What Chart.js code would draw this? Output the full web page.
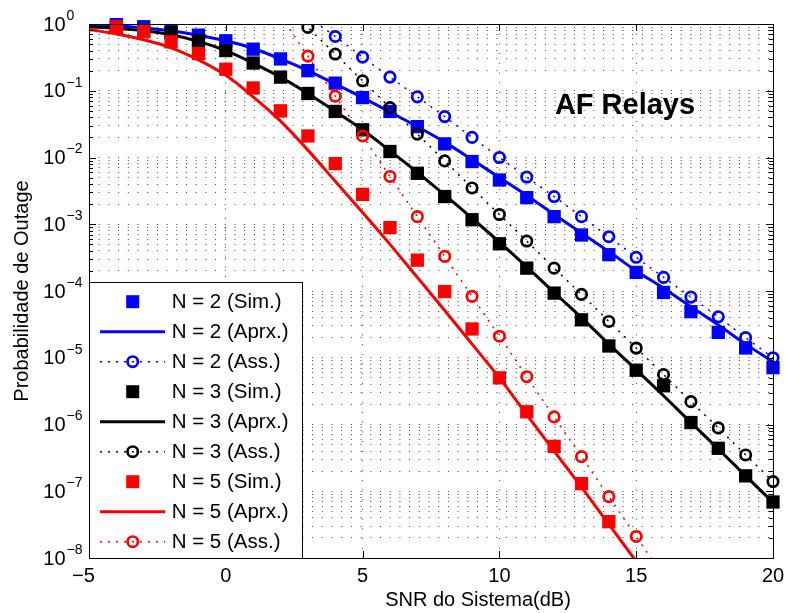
<!DOCTYPE html>
<html>
<head>
<meta charset="utf-8">
<script src="https://cdn.jsdelivr.net/npm/chart.js@4.4.0/dist/chart.umd.min.js"></script>
<style>
  html, body { margin: 0; padding: 0; background: #fff; }
  #wrap { width: 786px; height: 613px; }
</style>
</head>
<body>
<div id="wrap"><canvas id="outage" width="786" height="613"></canvas></div>
<script>
// SNR do sistema (dB)
const snr = [-5, -4, -3, -2, -1, 0, 1, 2, 3, 4, 5, 6, 7, 8, 9, 10, 11, 12, 13, 14, 15, 16, 17, 18, 19, 20];

// N = 2
const simN2 = [null, 0.98, 0.91, 0.79, 0.68, 0.56, 0.42, 0.30, 0.20, 0.13, 0.079, 0.049, 0.029, 0.016, 8.7e-3, 4.6e-3, 2.5e-3, 1.3e-3, 6.9e-4, 3.5e-4, 1.9e-4, 9.5e-5, 4.9e-5, 2.4e-5, 1.4e-5, 7.1e-6];
const aprxN2 = [0.966, 0.93, 0.87, 0.79, 0.68, 0.56, 0.43, 0.30, 0.20, 0.126, 0.079, 0.048, 0.029, 0.017, 9.3e-3, 5.0e-3, 2.7e-3, 1.4e-3, 7.4e-4, 3.9e-4, 2.0e-4, 1.1e-4, 5.8e-5, 3.1e-5, 1.6e-5, 8.7e-6];
const assN2 = [null, null, null, null, null, null, null, null, 1.29, 0.65, 0.32, 0.16, 0.081, 0.041, 0.020, 0.010, 5.1e-3, 2.6e-3, 1.3e-3, 6.5e-4, 3.2e-4, 1.6e-4, 8.1e-5, 4.1e-5, 2.0e-5, 1.0e-5];

// N = 3
const simN3 = [null, 0.89, 0.79, 0.74, 0.56, 0.40, 0.26, 0.16, 0.091, 0.049, 0.026, 0.0123, 5.8e-3, 2.6e-3, 1.17e-3, 5.1e-4, 2.2e-4, 9.3e-5, 3.7e-5, 1.5e-5, 6.5e-6, 3.8e-6, 1.07e-6, 4.4e-7, 1.7e-7, 6.9e-8];
const aprxN3 = [0.91, 0.86, 0.79, 0.69, 0.55, 0.40, 0.26, 0.16, 0.091, 0.049, 0.026, 0.0126, 6.0e-3, 2.75e-3, 1.23e-3, 5.4e-4, 2.3e-4, 9.5e-5, 4.0e-5, 1.6e-5, 6.6e-6, 2.7e-6, 1.07e-6, 4.3e-7, 1.7e-7, 6.8e-8];
const assN3 = [null, null, null, null, null, null, null, 2.2, 0.89, 0.355, 0.141, 0.056, 0.0224, 8.9e-3, 3.5e-3, 1.4e-3, 5.6e-4, 2.2e-4, 8.9e-5, 3.5e-5, 1.4e-5, 5.6e-6, 2.2e-6, 8.9e-7, 3.5e-7, 1.4e-7];

// N = 5
const simN5 = [null, 0.91, 0.77, 0.54, 0.36, 0.21, 0.11, 0.050, 0.021, 8.1e-3, 2.8e-3, 8.9e-4, 2.9e-4, 9.8e-5, 2.7e-5, 5.0e-6, 1.55e-6, 4.7e-7, 1.3e-7, 3.5e-8, null, null, null, null, null, null];
const aprxN5 = [0.83, 0.71, 0.58, 0.44, 0.29, 0.17, 0.081, 0.035, 0.0129, 4.4e-3, 1.5e-3, 5.0e-4, 1.6e-4, 5.1e-5, 1.6e-5, 5.0e-6, 1.4e-6, 4.0e-7, 1.15e-7, 3.2e-8, 8.9e-9, null, null, null, null, null];
const assN5 = [null, null, null, null, null, null, null, 1.32, 0.33, 0.083, 0.021, 5.2e-3, 1.3e-3, 3.3e-4, 8.3e-5, 2.1e-5, 5.2e-6, 1.3e-6, 3.3e-7, 8.3e-8, 2.1e-8, 5.2e-9, null, null, null, null];

const groups = [
  { n: 2, color: '#0000ff', sim: simN2, aprx: aprxN2, ass: assN2 },
  { n: 3, color: '#000000', sim: simN3, aprx: aprxN3, ass: assN3 },
  { n: 5, color: '#ff0000', sim: simN5, aprx: aprxN5, ass: assN5 }
];

const xTicks = [-5, 0, 5, 10, 15, 20];
const FONT = "'Liberation Sans', Arial, Helvetica, sans-serif";

const toXY = arr => snr.map((x, i) => ({ x: x, y: arr[i] }));
const inRange = c => {
  const v = c.raw && c.raw.y;
  return v != null && v <= 1 && v >= 1e-8;
};
const lineClip = { left: 10, right: 10, top: 0, bottom: 0 };

const datasets = [];
groups.forEach(g => {
  datasets.push({
    label: 'N = ' + g.n + ' (Sim.)', kind: 'sim',
    data: toXY(g.sim), showLine: false,
    pointStyle: 'rect', pointRadius: 9.4, borderWidth: 0,
    backgroundColor: g.color, borderColor: g.color, clip: false
  });
  datasets.push({
    label: 'N = ' + g.n + ' (Aprx.)', kind: 'aprx',
    data: toXY(g.aprx), borderColor: g.color, borderWidth: 3,
    pointRadius: 0, cubicInterpolationMode: 'monotone', clip: lineClip
  });
  datasets.push({
    label: 'N = ' + g.n + ' (Ass.)', kind: 'ass',
    data: toXY(g.ass), borderColor: g.color, borderWidth: 1.5, borderDash: [2, 6],
    pointStyle: 'circle', pointRadius: c => inRange(c) ? 5.2 : 0,
    pointBorderWidth: 2.7, pointBorderColor: g.color, pointBackgroundColor: 'rgba(0,0,0,0)',
    clip: lineClip
  });
});
// later series are drawn on top (as in the original figure)
datasets.forEach((d, i) => { d.order = datasets.length - i; });

const decor = {
  id: 'decor',
  afterDatasetsDraw(chart) {
    const ctx = chart.ctx, a = chart.chartArea;
    const xs = chart.scales.x, ys = chart.scales.y;
    ctx.save();

    // inner tick marks
    ctx.strokeStyle = '#000';
    ctx.lineWidth = 1;
    ctx.beginPath();
    ys.ticks.forEach(t => {
      const y = Math.round(ys.getPixelForValue(t.value)) + 0.5;
      const len = t.major ? 7 : 4;
      ctx.moveTo(a.left, y); ctx.lineTo(a.left + len, y);
      ctx.moveTo(a.right, y); ctx.lineTo(a.right - len, y);
    });
    xs.ticks.forEach(t => {
      const x = Math.round(xs.getPixelForValue(t.value)) + 0.5;
      ctx.moveTo(x, a.bottom); ctx.lineTo(x, a.bottom - 7);
      ctx.moveTo(x, a.top); ctx.lineTo(x, a.top + 7);
    });
    ctx.stroke();

    // y tick labels 10^k
    ctx.fillStyle = '#000';
    ys.ticks.filter(t => t.major).forEach(t => {
      const y = ys.getPixelForValue(t.value);
      const e = Math.round(Math.log10(t.value));
      ctx.font = '20px ' + FONT;
      ctx.textAlign = 'right';
      ctx.textBaseline = 'middle';
      ctx.fillText('10', 65.5, y + 1);
      ctx.font = '14px ' + FONT;
      ctx.textAlign = 'left';
      ctx.fillText(e === 0 ? '0' : '\u2212' + Math.abs(e), 66.5, y - 8);
    });

    // x axis title
    ctx.font = '20px ' + FONT;
    ctx.textAlign = 'center';
    ctx.textBaseline = 'middle';
    ctx.fillText('SNR do Sistema(dB)', 478, 600);

    // annotation
    ctx.font = 'bold 29px ' + FONT;
    ctx.textAlign = 'center';
    ctx.textBaseline = 'alphabetic';
    ctx.fillText('AF Relays', 625, 114);

    // legend box
    const lx = a.left, ly = 282, lw = 213, lh = a.bottom - 282;
    ctx.fillStyle = '#fff';
    ctx.fillRect(lx, ly, lw, lh);
    ctx.strokeStyle = '#000';
    ctx.lineWidth = 1;
    ctx.strokeRect(lx + 0.5, ly + 0.5, lw, lh);
    chart.data.datasets.forEach((d, i) => {
      const y = 301.7 + 30 * i;
      const mx = 132.7;
      ctx.save();
      if (d.kind === 'sim') {
        ctx.fillStyle = d.backgroundColor;
        ctx.fillRect(mx - 6.5, y - 6.5, 13, 13);
      } else if (d.kind === 'aprx') {
        ctx.strokeStyle = d.borderColor;
        ctx.lineWidth = 3;
        ctx.beginPath(); ctx.moveTo(100, y); ctx.lineTo(165, y); ctx.stroke();
      } else {
        ctx.strokeStyle = d.borderColor;
        ctx.lineWidth = 1.5;
        ctx.setLineDash(d.borderDash);
        ctx.beginPath(); ctx.moveTo(100, y); ctx.lineTo(165, y); ctx.stroke();
        ctx.setLineDash([]);
        ctx.lineWidth = 2.7;
        ctx.beginPath(); ctx.arc(mx, y, 5.2, 0, Math.PI * 2); ctx.stroke();
      }
      ctx.restore();
      ctx.fillStyle = '#000';
      ctx.font = '20.5px ' + FONT;
      ctx.textAlign = 'left';
      ctx.textBaseline = 'middle';
      ctx.fillText(d.label, 171.7, y + 1);
    });

    // axes box
    ctx.strokeStyle = '#000';
    ctx.lineWidth = 1;
    ctx.strokeRect(Math.round(a.left) + 0.5, Math.round(a.top) + 0.5,
      Math.round(a.right - a.left), Math.round(a.bottom - a.top));
    ctx.restore();
  }
};

Chart.defaults.font.family = FONT;
Chart.defaults.color = '#000';

new Chart(document.getElementById('outage'), {
  type: 'line',
  data: { datasets: datasets },
  plugins: [decor],
  options: {
    responsive: false,
    animation: false,
    events: [],
    layout: { padding: { left: 0, right: 13, top: 24, bottom: 0 } },
    plugins: { legend: { display: false }, tooltip: { enabled: false } },
    scales: {
      x: {
        type: 'linear', min: -5, max: 20,
        afterBuildTicks: s => { s.ticks = xTicks.map(v => ({ value: v })); },
        afterFit: s => { s.height = 55; s.paddingLeft = 0; s.paddingRight = 0; },
        ticks: {
          font: { size: 20 }, padding: 6, maxRotation: 0, autoSkip: false,
          callback: v => v < 0 ? '\u2212' + Math.abs(v) + '  ' : String(v)
        },
        grid: { color: '#444', lineWidth: 1, drawTicks: false },
        border: { display: false, dash: [1, 8.7] }
      },
      y: {
        type: 'logarithmic', min: 1e-8, max: 1,
        afterBuildTicks: s => {
          const t = [];
          for (let e = -8; e <= 0; e++) {
            for (let m = 1; m <= 9; m++) {
              if (e === 0 && m > 1) break;
              t.push({ value: m * Math.pow(10, e), major: m === 1 });
            }
          }
          s.ticks = t;
        },
        afterFit: s => { s.width = 89; },
        ticks: { display: false, autoSkip: false },
        grid: { color: '#444', lineWidth: 1, drawTicks: false },
        border: { display: false, dash: [1, 8.7] },
        title: {
          display: true, text: 'Probabilidade de Outage',
          font: { size: 20 }, padding: { top: 10, bottom: 0 }
        }
      }
    }
  }
});
</script>
</body>
</html>
